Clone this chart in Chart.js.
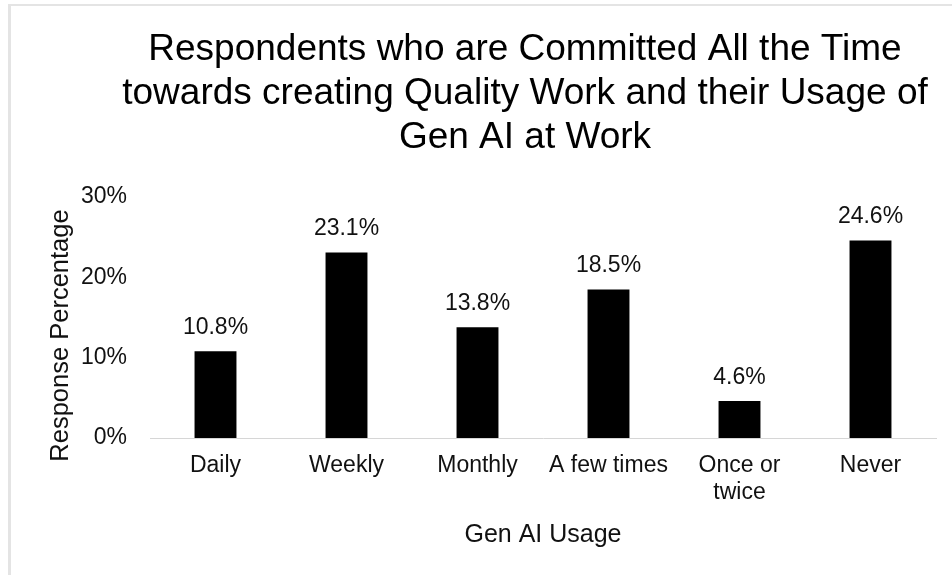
<!DOCTYPE html>
<html>
<head>
<meta charset="utf-8">
<script src="https://cdn.jsdelivr.net/npm/chart.js@4.4.0/dist/chart.umd.min.js"></script>
<style>
  html, body { margin: 0; padding: 0; background: #fff; overflow: hidden; width: 952px; height: 575px; }
  #frame { position: absolute; left: 8px; top: 4px; width: 1100px; height: 700px;
           border-left: 3px solid #e4e4e4; border-top: 2px solid #e4e4e4; }
  #c { position: absolute; left: 0; top: 0; }
</style>
</head>
<body>
<div id="frame"></div>
<canvas id="c" width="1050" height="575"></canvas>
<script>
const titleLines = ['Respondents who are Committed All the Time', 'towards creating Quality Work and their Usage of', 'Gen AI at Work'];
const categories = ['Daily', 'Weekly', 'Monthly', 'A few times', ['Once or', 'twice'], 'Never'];
const values = [10.8, 23.1, 13.8, 18.5, 4.6, 24.6];
const yTickValues = [0, 10, 20, 30];
const xAxisTitle = 'Gen AI Usage';
const yAxisTitle = 'Response Percentage';

const FONT = '"Liberation Sans", Arial, Helvetica, sans-serif';
const TEXT = '#111111';

const dataLabels = {
  id: 'dataLabels',
  afterDatasetsDraw(chart) {
    const ctx = chart.ctx;
    const meta = chart.getDatasetMeta(0);
    ctx.save();
    ctx.font = '23px ' + FONT;
    ctx.fillStyle = TEXT;
    ctx.textAlign = 'center';
    ctx.textBaseline = 'alphabetic';
    meta.data.forEach((el, i) => {
      ctx.fillText(values[i].toFixed(1) + '%', el.x, el.y - 17);
    });
    ctx.restore();
  }
};

const yTitlePlugin = {
  id: 'yTitle',
  afterDraw(chart) {
    const ctx = chart.ctx;
    const a = chart.chartArea;
    ctx.save();
    ctx.font = '25.5px ' + FONT;
    ctx.fillStyle = TEXT;
    ctx.textAlign = 'center';
    ctx.textBaseline = 'middle';
    ctx.translate(61, (a.top + a.bottom) / 2 + 18);
    ctx.rotate(-Math.PI / 2);
    ctx.fillText(yAxisTitle, 0, 0);
    ctx.restore();
  }
};

new Chart(document.getElementById('c'), {
  type: 'bar',
  data: {
    labels: categories,
    datasets: [{
      data: values,
      backgroundColor: '#000000',
      borderWidth: 0,
      categoryPercentage: 1.0,
      barPercentage: 0.32
    }]
  },
  options: {
    responsive: false,
    animation: false,
    devicePixelRatio: 1,
    layout: { padding: { left: 0, right: 0, top: 0, bottom: 25 } },
    plugins: {
      legend: { display: false },
      tooltip: { enabled: false },
      title: {
        display: true,
        text: titleLines,
        color: '#000000',
        font: { family: FONT, size: 37, weight: 'normal', lineHeight: 44 / 37 },
        padding: { top: 27.5, bottom: 37.5 }
      }
    },
    scales: {
      x: {
        grid: { display: false, drawTicks: false },
        border: { display: true, color: '#d6d6d6', width: 1 },
        ticks: {
          color: TEXT,
          font: { family: FONT, size: 23, lineHeight: 27 / 23 },
          padding: 14,
          maxRotation: 0,
          autoSkip: false
        },
        title: {
          display: true,
          text: xAxisTitle,
          color: TEXT,
          font: { family: FONT, size: 25, lineHeight: 1.2 },
          padding: { top: 0, bottom: 0 }
        }
      },
      y: {
        min: 0,
        max: 30,
        afterBuildTicks(scale) { scale.ticks = yTickValues.map(v => ({ value: v })); },
        afterFit(scale) { scale.width = 150; },
        grid: { display: false, drawTicks: false },
        border: { display: false },
        ticks: {
          color: TEXT,
          font: { family: FONT, size: 23 },
          padding: 23,
          callback: v => v + '%'
        },
        title: { display: false }
      },
      yRight: {
        position: 'right',
        display: true,
        grid: { display: false, drawTicks: false },
        border: { display: false },
        ticks: { display: false },
        afterFit(scale) { scale.width = 114; }
      }
    }
  },
  plugins: [dataLabels, yTitlePlugin]
});
</script>
</body>
</html>
